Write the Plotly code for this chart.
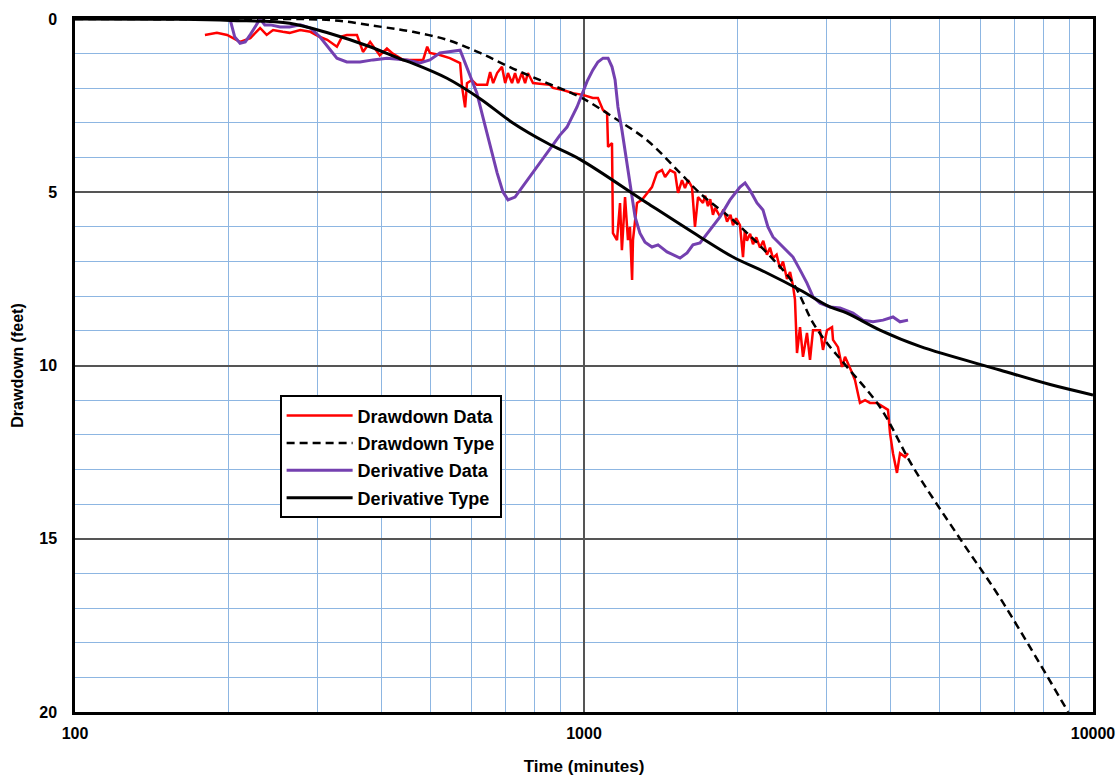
import plotly.graph_objects as go

# ---- Drawdown data (red) : time in minutes, drawdown in feet ----
dd_time = [180, 190, 199, 204, 211, 221, 231, 238, 245, 256, 264, 277, 290, 303, 313, 327,
           335, 342, 358, 368, 380, 397, 410, 421, 441, 483, 492, 498, 521, 545, 571, 576,
           584, 589, 602, 616, 645, 654, 663, 675, 690, 700, 709, 722, 732, 742, 755, 766,
           776, 794, 857, 869, 909, 951, 995, 1041, 1065, 1090, 1110, 1115, 1135, 1140, 1161,
           1177, 1187, 1204, 1220, 1231, 1243, 1248, 1271, 1300, 1330, 1360, 1391, 1423, 1443,
           1476, 1510, 1530, 1558, 1579, 1601, 1630, 1652, 1675, 1713, 1730, 1752, 1770, 1792,
           1810, 1850, 1880, 1910, 1940, 1962, 1990, 2025, 2053, 2070, 2090, 2120, 2148, 2180,
           2217, 2250, 2288, 2320, 2351, 2390, 2427, 2460, 2505, 2540, 2574, 2597, 2621, 2657,
           2693, 2742, 2780, 2818, 2909, 2948, 3002, 3071, 3085, 3155, 3213, 3257, 3301, 3361,
           3407, 3485, 3566, 3647, 3764, 3868, 3956, 3992, 4046, 4120, 4177, 4272, 4331]
dd_feet = [0.46, 0.40, 0.46, 0.55, 0.66, 0.55, 0.26, 0.46, 0.32, 0.37, 0.40, 0.32, 0.37, 0.52, 0.60, 0.80,
           0.50, 0.46, 0.46, 0.95, 0.66, 1.05, 0.85, 1.00, 1.18, 1.18, 0.80, 0.98, 1.04, 1.13, 1.27, 1.96,
           2.55, 1.85, 1.76, 1.90, 1.90, 1.53, 1.85, 1.56, 1.38, 1.85, 1.56, 1.85, 1.56, 1.85, 1.56, 1.85,
           1.56, 1.85, 1.90, 1.99, 2.05, 2.14, 2.19, 2.28, 2.28, 2.63, 2.71, 3.69, 3.58, 6.18, 6.38,
           5.31, 6.67, 5.14, 6.38, 6.00, 7.53, 6.38, 5.31, 5.22, 5.02, 4.85, 4.44, 4.36, 4.56,
           4.36, 4.44, 5.02, 4.65, 4.88, 4.65, 4.85, 6.00, 5.14, 5.31, 5.10, 5.40, 5.20, 5.65,
           5.45, 5.70, 5.50, 5.85, 5.65, 5.95, 5.75, 5.95, 6.87, 6.10, 6.40, 6.20, 6.50, 6.30,
           6.60, 6.40, 6.80, 6.60, 6.90, 6.80, 7.20, 7.00, 7.50, 7.30, 7.70, 8.10, 9.64, 8.89,
           9.75, 9.06, 9.84, 8.98, 8.98, 9.55, 8.98, 8.89, 9.26, 9.47, 10.04, 9.75, 9.93, 10.20,
           10.42, 11.08, 11.00, 11.08, 11.08, 11.20, 11.28, 11.95, 12.53, 13.10, 12.53, 12.64, 12.53]

# ---- Derivative data (purple) ----
dv_time = [202, 206, 211, 216, 221, 228, 231, 236, 242, 253, 264, 277, 290, 303, 317, 327,
           342, 363, 385, 410, 449, 476, 498, 521, 571, 584, 597, 616, 633, 654, 675, 693,
           709, 732, 749, 783, 819, 857, 897, 926, 969, 1014, 1041, 1065, 1090, 1115, 1135,
           1151, 1166, 1187, 1204, 1220, 1243, 1260, 1288, 1318, 1360, 1398, 1456, 1496, 1544,
           1594, 1637, 1690, 1768, 1850, 1936, 2025, 2072, 2119, 2187, 2247, 2298, 2351, 2460,
           2574, 2657, 2742, 2818, 2909, 3043, 3184, 3377, 3533, 3697, 3868, 4046, 4177, 4331]
dv_feet = [0.05, 0.52, 0.70, 0.66, 0.45, 0.12, 0.00, 0.17, 0.17, 0.23, 0.23, 0.17, 0.26, 0.52, 0.90, 1.13,
           1.24, 1.24, 1.18, 1.13, 1.18, 1.27, 1.18, 0.98, 0.90, 1.27, 1.67, 2.14, 2.83, 3.69, 4.44, 4.99,
           5.22, 5.14, 4.94, 4.56, 4.16, 3.78, 3.35, 3.12, 2.54, 1.80, 1.47, 1.24, 1.13, 1.13, 1.38,
           1.76, 2.54, 3.20, 3.78, 4.36, 5.02, 5.71, 6.18, 6.44, 6.58, 6.52, 6.72, 6.81, 6.90,
           6.75, 6.52, 6.46, 6.09, 5.71, 5.22, 4.85, 4.73, 4.94, 5.31, 5.51, 6.00, 6.29, 6.58,
           6.87, 7.24, 7.62, 8.02, 8.20, 8.31, 8.34, 8.49, 8.69, 8.74, 8.69, 8.60, 8.74, 8.69]

# ---- Drawdown type curve (dashed black) ----
dt_time = [100, 200, 317, 397, 461, 538, 625, 725, 846, 982, 1140, 1330, 1544, 1690, 1825,
           1962, 2288, 2574, 2818, 3002, 3286, 3815, 4431, 5480, 6561, 8937]
dt_feet = [0.0, 0.01, 0.03, 0.22, 0.37, 0.60, 0.98, 1.43, 1.85, 2.25, 2.83, 3.50, 4.44, 5.03, 5.43,
           5.80, 6.75, 7.62, 8.77, 9.35, 10.04, 11.20, 12.93, 15.00, 16.70, 20.00]

# ---- Derivative type curve (solid black) ----
vt_time = [100, 161, 202, 264, 317, 380, 435, 461, 538, 625, 725, 846, 982, 1330, 1690,
           1962, 2288, 2657, 3043, 3286, 3815, 4571, 6561, 8237, 10000]
vt_feet = [0.0, 0.01, 0.04, 0.12, 0.42, 0.80, 1.15, 1.28, 1.71, 2.30, 3.00, 3.58, 4.05, 5.31, 6.29,
           6.87, 7.33, 7.82, 8.31, 8.49, 8.98, 9.45, 10.13, 10.55, 10.85]

x_tick_vals = [100, 1000, 10000]
x_tick_text = ["100", "1000", "10000"]
y_tick_vals = [0, 5, 10, 15, 20]

FONT = "Liberation Sans, Arial, sans-serif"
BLUE_GRID = "#8db6e2"
MAJOR_GRID = "#555555"

fig = go.Figure()
fig.add_trace(go.Scatter(x=dd_time, y=dd_feet, mode="lines", name="Drawdown Data",
                         line=dict(color="#ff0000", width=2.5), legendgroup="a"))
fig.add_trace(go.Scatter(x=dt_time, y=dt_feet, mode="lines", name="Drawdown Type",
                         line=dict(color="#000000", width=2.5, dash="8px,5px", shape="spline"),
                         legendgroup="b"))
fig.add_trace(go.Scatter(x=dv_time, y=dv_feet, mode="lines", name="Derivative Data",
                         line=dict(color="#7440b0", width=3), legendgroup="c"))
fig.add_trace(go.Scatter(x=vt_time, y=vt_feet, mode="lines", name="Derivative Type",
                         line=dict(color="#000000", width=3, shape="spline"), legendgroup="d"))

fig.update_layout(
    width=1120, height=777,
    margin=dict(l=75, r=27, t=19, b=65, autoexpand=False),
    paper_bgcolor="white", plot_bgcolor="white",
    font=dict(family=FONT, size=16, color="#000000"),
    showlegend=True,
    legend=dict(x=0.201, y=0.457, xanchor="left", yanchor="top",
                bgcolor="white", bordercolor="#000000", borderwidth=2,
                font=dict(family=FONT, size=18, weight="bold"),
                itemwidth=66,
                traceorder="grouped", tracegroupgap=1),
)

fig.update_xaxes(
    type="log", range=[2, 4], automargin=False,
    tickvals=x_tick_vals, ticktext=x_tick_text,
    tickfont=dict(family=FONT, size=16, weight="bold"),
    ticks="", ticklabelstandoff=5,
    showgrid=True, gridcolor=MAJOR_GRID, gridwidth=1.5,
    minor=dict(showgrid=True, gridcolor=BLUE_GRID, gridwidth=1, dtick="D1"),
    showline=True, linecolor="#000000", linewidth=2.5, mirror=True,
    zeroline=False,
    title=dict(text="Time (minutes)", font=dict(family=FONT, size=17, weight="bold"), standoff=20),
)

fig.update_yaxes(
    range=[20, 0], automargin=False,
    tickvals=y_tick_vals,
    tickfont=dict(family=FONT, size=16, weight="bold"),
    ticks="", ticklabelstandoff=12,
    showgrid=True, gridcolor=MAJOR_GRID, gridwidth=1.5,
    minor=dict(showgrid=True, gridcolor=BLUE_GRID, gridwidth=1, dtick=1),
    showline=True, linecolor="#000000", linewidth=2.5, mirror=True,
    zeroline=False,
    title=dict(text="Drawdown (feet)", font=dict(family=FONT, size=16, weight="bold"), standoff=12),
)

fig.write_html("out.html")
